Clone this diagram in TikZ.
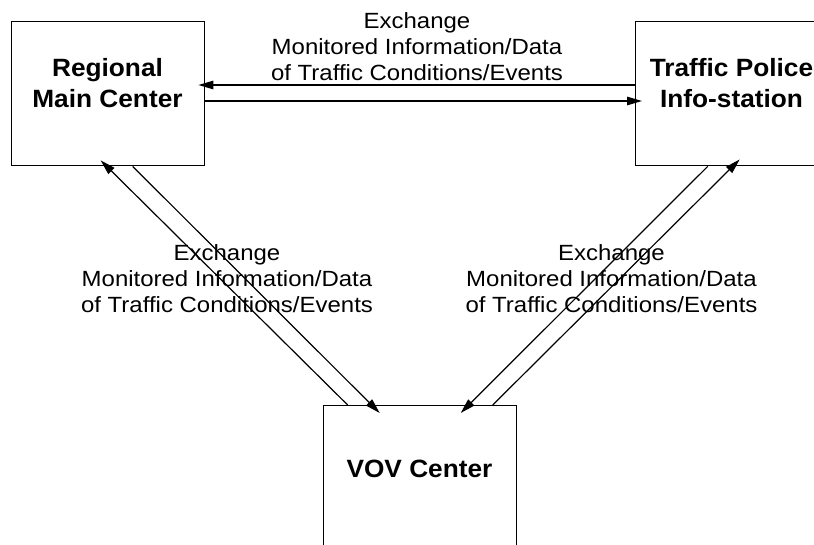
\documentclass[tikz,border=0pt]{standalone}
\usepackage{fontspec}
\setmainfont{Liberation Sans}
\newfontfamily\lblfont[FakeStretch=1.09]{Liberation Sans}
\newfontfamily\ttlfont[FakeStretch=1.05]{Liberation Sans}
\usetikzlibrary{arrows.meta,calc}
\begin{document}
\begin{tikzpicture}[x=1pt,y=-1pt,
  box/.style={draw, line width=1.4pt, inner sep=0pt, anchor=north west},
  ttl/.style={inner sep=0pt, anchor=base, align=center,
    font=\ttlfont\bfseries\fontsize{25}{31}\selectfont},
  lbl/.style={inner sep=0pt, anchor=base, align=center,
    font=\lblfont\fontsize{22}{26}\selectfont},
  arr/.style={line width=1.2pt, -{Triangle[length=15pt,width=8.5pt]}},
  ln/.style={line width=1.2pt}]
  % canvas
  \fill[white] (0,0) rectangle (814,544);
  \useasboundingbox (0,0) rectangle (814,544);

  % the three centres
  \node[box, minimum width=193pt, minimum height=144pt] (rm) at (11,21) {};
  \node[box, minimum width=205pt, minimum height=144pt] (tp) at (635,21) {};
  \node[box, minimum width=193pt, minimum height=160pt] (vov) at (323,405) {};

  % titles (base anchor sits on the last line)
  \node[ttl] (rmt) at (107.5,107) {Regional\\Main Center};
  \node[ttl] (tpt) at (731.5,107) {Traffic Police\\Info-station};
  \node[ttl] (vovt) at (419.5,477) {VOV Center};

  % regional centre <-> traffic police
  \draw[arr] (tp.west |- 0,85) -- ($(rm.east |- 0,85)+(-7,0)$);
  \draw[arr] (rm.east |- 0,101) -- ($(tp.west |- 0,101)+(7,0)$);

  % regional centre <-> VOV
  \draw[arr] ($(vov.north)+(-72.5,0)$) -- ($(rm.south)+(-7.5,-6)$);
  \draw[arr] ($(rm.south)+(24.5,0)$) -- ($(vov.north)+(-40.5,8)$);

  % traffic police <-> VOV
  \draw[arr] ($(vov.north)+(72.5,0)$) -- ($(tp.south)+(1.5,-7)$);
  \draw[arr] ($(tp.south)+(-30.5,0)$) -- ($(vov.north)+(40.5,8)$);

  % exchange labels
  \node[lbl] (ltop) at (417,80) {Exchange\\Monitored Information/Data\\of Traffic Conditions/Events};
  \node[lbl] (lleft) at (227,312) {Exchange\\Monitored Information/Data\\of Traffic Conditions/Events};
  \node[lbl] (lright) at (611.5,312) {Exchange\\Monitored Information/Data\\of Traffic Conditions/Events};
\end{tikzpicture}
\end{document}
